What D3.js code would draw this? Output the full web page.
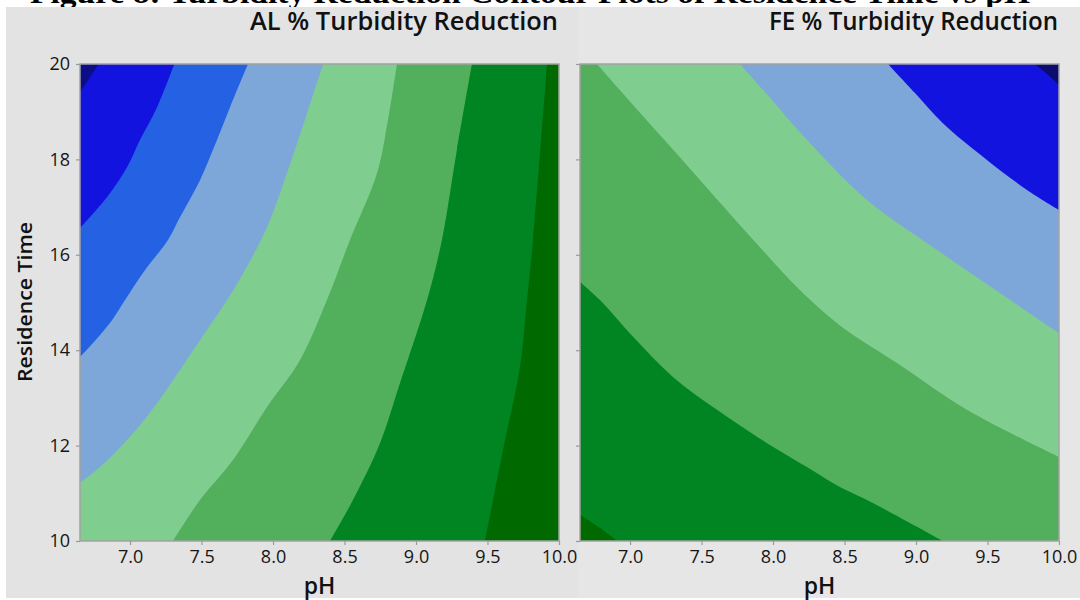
<!DOCTYPE html>
<html>
<head>
<meta charset="utf-8">
<script src="https://cdn.jsdelivr.net/npm/d3@7"></script>
<style>
  html, body { margin: 0; padding: 0; background: #ffffff; }
  svg { display: block; }
</style>
</head>
<body>
<svg id="chart" width="1080" height="600"></svg>
<script>
// Axis ranges and tick labels
const phDomain = [6.65, 10];
const timeDomain = [10, 20];
const phTicks = [7.0, 7.5, 8.0, 8.5, 9.0, 9.5, 10.0];
const timeTicks = [10, 12, 14, 16, 18, 20];

// Contour boundaries, [pH, residence time] pairs, ordered from low to high response
const alBoundaries = [
  [[6.78, 20], [6.72, 19.72], [6.65, 19.41]],
  [[7.31, 20], [7.19, 19.10], [7.07, 18.41], [6.98, 17.84], [6.84, 17.21], [6.65, 16.56]],
  [[7.825, 20], [7.70, 19.10], [7.58, 18.20], [7.49, 17.57], [7.35, 16.79], [7.265, 16.31],
   [7.105, 15.68], [6.965, 15.05], [6.874, 14.63], [6.741, 14.15], [6.65, 13.86]],
  [[8.35, 20], [8.223, 18.83], [8.105, 17.78], [7.958, 16.58], [7.804, 15.68], [7.678, 15.05],
   [7.489, 14.21], [7.188, 12.89], [7.021, 12.26], [6.79, 11.55], [6.65, 11.22]],
  [[8.867, 20], [8.804, 18.83], [8.727, 17.71], [8.538, 16.31], [8.377, 15.05], [8.188, 13.79],
   [7.958, 12.81], [7.72, 11.70], [7.489, 10.86], [7.30, 10]],
  [[9.391, 20], [9.286, 18.20], [9.181, 16.31], [9.077, 15.05], [8.888, 13.31], [8.748, 12.05],
   [8.559, 10.86], [8.398, 10]],
  [[9.916, 20], [9.818, 16.31], [9.776, 15.05], [9.727, 13.65], [9.608, 11.91], [9.482, 10]]
];

const feBoundaries = [
  [[9.832, 20], [9.916, 19.79], [10, 19.56]],
  [[8.804, 20], [8.993, 19.39], [9.188, 18.76], [9.496, 17.99], [9.776, 17.36], [10, 16.94]],
  [[7.769, 20], [7.979, 19.29], [8.188, 18.57], [8.657, 17.15], [9.119, 16.16], [9.587, 15.20], [10, 14.36]],
  [[6.769, 20], [6.93, 19.45], [7.209, 18.51], [7.489, 17.57], [7.839, 16.39], [8.188, 15.26],
   [8.468, 14.52], [8.888, 13.69], [9.356, 12.75], [10, 11.76]],
  [[6.65, 15.43], [6.79, 15.05], [7.021, 14.28], [7.30, 13.44], [7.608, 12.75], [7.958, 12.05],
   [8.237, 11.55], [8.468, 11.13], [8.657, 10.86], [9.188, 10]],
  [[6.65, 10.55], [6.79, 10.27], [6.909, 10]]
];

// Band fills, lowest band first
const alBandColors = ["#0d0d88", "#1313e0", "#2462e3", "#7ca7d8", "#80cd90", "#52b05c", "#008522", "#006a00"];
const feBandColors = ["#0b0b70", "#1313e0", "#7ca7d8", "#80cd90", "#52b05c", "#008522", "#006a00"];

const panels = [
  { title: "AL % Turbidity Reduction", left: 80, titleWidth: 308, boundaries: alBoundaries, colors: alBandColors, walk: "ccw", yLabels: true },
  { title: "FE % Turbidity Reduction", left: 580, titleWidth: 289, boundaries: feBoundaries, colors: feBandColors, walk: "cw", yLabels: false }
];

const plotW = 479, plotTop = 64, plotH = 477;
const svg = d3.select("#chart");
const FONT = "'Open Sans', 'Noto Sans', sans-serif";

// Figure caption (mostly hidden behind the chart backdrop)
svg.append("text")
  .attr("x", 30).attr("y", 3)
  .attr("textLength", 1000).attr("lengthAdjust", "spacingAndGlyphs")
  .style("font-family", "'Liberation Serif', 'DejaVu Serif', serif")
  .style("font-weight", "bold").style("font-size", "30px").attr("fill", "#000")
  .text("Figure 8: Turbidity Reduction Contour Plots of Residence Time vs pH");

// Backdrops
svg.append("rect").attr("x", 6).attr("y", 7).attr("width", 572).attr("height", 591).attr("fill", "#e3e3e3");
svg.append("rect").attr("x", 578).attr("y", 7).attr("width", 502).attr("height", 591).attr("fill", "#e6e6e6");

// Perimeter position of a point on the plot edge (counter-clockwise from bottom-left)
function perim(p) {
  const eps = 1e-6, [ph, t] = p;
  const wPh = phDomain[1] - phDomain[0], wT = timeDomain[1] - timeDomain[0];
  if (Math.abs(t - timeDomain[0]) < eps) return (ph - phDomain[0]) / wPh;
  if (Math.abs(ph - phDomain[1]) < eps) return 1 + (t - timeDomain[0]) / wT;
  if (Math.abs(t - timeDomain[1]) < eps) return 2 + (phDomain[1] - ph) / wPh;
  return 3 + (timeDomain[1] - t) / wT;
}
const corners = [[phDomain[0], timeDomain[0]], [phDomain[1], timeDomain[0]], [phDomain[1], timeDomain[1]], [phDomain[0], timeDomain[1]]];

function closingCorners(pts, walk) {
  const a = perim(pts[pts.length - 1]);
  let b = perim(pts[0]);
  const out = [];
  if (walk === "ccw") {
    if (b <= a) b += 4;
    for (let k = Math.floor(a) + 1; k <= Math.ceil(b) - 1; k++) out.push(corners[k % 4]);
  } else {
    if (b >= a) b -= 4;
    for (let k = Math.ceil(a) - 1; k >= Math.floor(b) + 1; k--) out.push(corners[((k % 4) + 4) % 4]);
  }
  return out;
}

panels.forEach((pn, i) => {
  const x = d3.scaleLinear().domain(phDomain).range([pn.left, pn.left + plotW]);
  const y = d3.scaleLinear().domain(timeDomain).range([plotTop + plotH, plotTop]);
  const g = svg.append("g");

  const clipId = "clip" + i;
  svg.append("clipPath").attr("id", clipId)
    .append("rect").attr("x", pn.left).attr("y", plotTop).attr("width", plotW).attr("height", plotH);

  const bands = g.append("g").attr("clip-path", `url(#${clipId})`);
  // lowest band fills the whole plot, each threshold region is layered above it
  bands.append("rect").attr("x", x(phDomain[0])).attr("y", y(timeDomain[1]))
    .attr("width", x(phDomain[1]) - x(phDomain[0])).attr("height", y(timeDomain[0]) - y(timeDomain[1]))
    .attr("fill", pn.colors[0]);

  const line = d3.line().x(d => x(d[0])).y(d => y(d[1])).curve(d3.curveCatmullRom.alpha(0.5));
  pn.boundaries.forEach((pts, k) => {
    const extra = closingCorners(pts, pn.walk).map(c => `L${x(c[0])},${y(c[1])}`).join("");
    bands.append("path")
      .attr("d", line(pts) + extra + "Z")
      .attr("fill", pn.colors[k + 1]);
  });

  // frame
  g.append("rect").attr("x", pn.left).attr("y", plotTop).attr("width", plotW).attr("height", plotH)
    .attr("fill", "none").attr("stroke", "#a3a3a3").attr("stroke-width", 1.5);

  // axes
  const xAxis = g.append("g").attr("transform", `translate(0,${plotTop + plotH})`)
    .call(d3.axisBottom(x).tickValues(phTicks).tickFormat(d3.format(".1f")).tickSize(4).tickPadding(5));
  const yAxis = g.append("g").attr("transform", `translate(${pn.left},0)`)
    .call(d3.axisLeft(y).tickValues(timeTicks).tickFormat(pn.yLabels ? d3.format("d") : () => "").tickSize(4).tickPadding(6));
  [xAxis, yAxis].forEach(ax => {
    ax.select(".domain").remove();
    ax.selectAll(".tick line").attr("stroke", "#9a9a9a").attr("stroke-width", 1.2);
    ax.selectAll(".tick text").attr("fill", "#151515")
      .style("font-family", FONT).style("font-size", "18px");
  });

  // x axis title
  g.append("text").attr("x", pn.left + plotW / 2).attr("y", 594).attr("text-anchor", "middle")
    .style("font-family", FONT).style("font-size", "23px").style("font-weight", "600")
    .attr("fill", "#111").text("pH");

  // panel title
  g.append("text").attr("x", pn.left + plotW - pn.titleWidth - 1).attr("y", 30)
    .attr("textLength", pn.titleWidth).attr("lengthAdjust", "spacingAndGlyphs")
    .style("font-family", FONT).style("font-weight", "600").style("font-size", "25px")
    .attr("fill", "#111").text(pn.title);
});

// y axis title
svg.append("text").attr("transform", "translate(32,302) rotate(-90)").attr("text-anchor", "middle")
  .attr("textLength", 160).attr("lengthAdjust", "spacingAndGlyphs")
  .style("font-family", FONT).style("font-size", "20px").style("font-weight", "600")
  .attr("fill", "#111").text("Residence Time");
</script>
</body>
</html>
